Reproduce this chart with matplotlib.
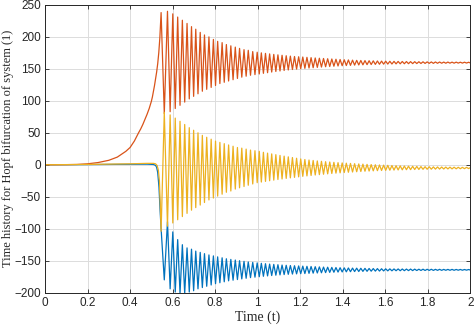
import numpy as np
import matplotlib
matplotlib.use("Agg")
import matplotlib.pyplot as plt

# ---- data ----
# times of the oscillation maxima of the red curve (first cycles slower)
peak_times_early = [0.546, 0.576, 0.601, 0.624, 0.646, 0.668, 0.689, 0.709, 0.730, 0.750, 0.771,
                    0.792, 0.812, 0.833, 0.853, 0.874, 0.895, 0.915, 0.936, 0.956, 0.977, 0.998]
late_period = 0.0195
n_late_cycles = 51

# build-up before the oscillation starts
red_pre_t = [0, 0.1, 0.15, 0.2, 0.25, 0.3, 0.34, 0.38, 0.4, 0.42, 0.44, 0.45, 0.46, 0.47, 0.48, 0.49,
             0.5, 0.505, 0.51, 0.515, 0.52, 0.525, 0.53, 0.535, 0.54, 0.543]
red_pre_v = [0, 0.2, 0.5, 1.5, 3.5, 7, 12, 21, 27, 37, 50, 56, 63, 71, 79, 88,
             99, 106, 115, 124, 134, 145, 158, 175, 198, 218]
yellow_pre_t = [0, 0.2, 0.4, 0.48, 0.51, 0.52, 0.527, 0.533, 0.538, 0.542]
yellow_pre_v = [0, 0.5, 1.5, 2.2, 2.2, 1.5, -1, -8, -25, -60]
blue_pre_t = [0, 0.2, 0.4, 0.48, 0.51, 0.52, 0.525, 0.53, 0.536, 0.541]
blue_pre_v = [0, 0.3, 0.8, 1.0, 0.5, -1, -4, -12, -35, -70]

# red: maxima at peak times, minima half a cycle later
red_max = [238, 240, 236, 231, 226, 221, 216, 212, 207, 203, 200, 196, 193, 191, 188, 186, 184, 182, 180, 179, 177, 176,
           175, 174.2, 173.4, 172.6, 171.9, 171.2, 170.5, 169.9, 169.3, 168.9, 168.5,
           168.0, 167.5, 167.0, 166.6, 166.2, 165.8, 165.4, 165.0, 164.6, 164.2,
           163.9, 163.6, 163.3, 163.1, 162.9, 162.7, 162.5, 162.3, 162.1, 162.0,
           161.8, 161.7, 161.6, 161.5, 161.4, 161.3, 161.2, 161.1, 161.0, 160.9,
           160.8, 160.8, 160.7, 160.6, 160.6, 160.5, 160.5, 160.4, 160.4, 160.3]
red_min = [80, 83, 88, 93, 98, 103, 107, 111, 115, 118, 121, 124, 127, 129, 131, 133, 135, 137, 138.5, 140, 141, 142,
           143, 144, 145, 145.9, 146.7, 147.5, 148.3, 149.0, 149.6, 150.2, 150.8,
           151.3, 151.8, 152.3, 152.8, 153.3, 153.7, 154.1, 154.5, 154.9, 155.2,
           155.5, 155.8, 156.1, 156.3, 156.6, 156.8, 157.0, 157.2, 157.4, 157.5,
           157.6, 157.8, 157.9, 158.0, 158.1, 158.2, 158.3, 158.4, 158.5, 158.6,
           158.6, 158.7, 158.8, 158.8, 158.9, 158.9, 159.0, 159.0, 159.1, 159.1]

# yellow: minima at red peak times, maxima at red trough times
yellow_min = [-104, -96, -91, -86, -81, -76, -71, -67, -63, -59, -55, -52, -49, -46, -43, -41, -38, -36, -34, -32, -30, -28,
              -27, -26, -25, -24, -23, -22.2, -21.3, -20.5, -19.7, -18.9, -18.1,
              -17.4, -16.7, -16.0, -15.4, -14.8, -14.2, -13.6, -13.1, -12.6, -12.1,
              -11.7, -11.3, -10.9, -10.5, -10.1, -9.8, -9.5, -9.2, -8.9, -8.7,
              -8.5, -8.3, -8.1, -7.9, -7.7, -7.6, -7.4, -7.3, -7.1, -7.0,
              -6.9, -6.8, -6.7, -6.6, -6.5, -6.4, -6.3, -6.2, -6.1, -6.0]
yellow_max = [82, 78, 73, 68, 63, 58, 54, 50, 46, 43, 40, 37, 35, 33, 31, 29, 27, 26, 24.5, 23, 22, 21,
              19.5, 18.2, 17, 15.8, 14.6, 13.5, 12.4, 11.3, 10.2, 9.1, 8.2,
              7.4, 6.7, 6.0, 5.4, 4.8, 4.3, 3.8, 3.3, 2.9, 2.5,
              2.1, 1.7, 1.3, 1.0, 0.6, 0.3, 0.0, -0.3, -0.6, -0.9,
              -1.2, -1.5, -1.7, -2.0, -2.2, -2.4, -2.6, -2.8, -3.0, -3.1,
              -3.3, -3.4, -3.5, -3.6, -3.7, -3.8, -3.9, -4.0, -4.0, -4.1]

# blue: in phase with red
blue_max = [-100, -89, -105, -117, -125, -130, -132, -135, -137, -139, -141, -142.5, -144, -145.5, -147, -148, -149,
            -150, -151, -152, -152.7, -153.4,
            -154.1, -154.7, -155.3, -155.8, -156.3, -156.8, -157.2, -157.6, -157.9, -158.2, -158.5,
            -158.8, -159.1, -159.4, -159.7, -160.0, -160.2, -160.5, -160.7, -161.0, -161.2,
            -161.4, -161.6, -161.7, -161.9, -162.0, -162.2, -162.3, -162.4, -162.6, -162.7,
            -162.8, -162.9, -162.9, -163.0, -163.1, -163.1, -163.2, -163.3, -163.3, -163.4,
            -163.4, -163.5, -163.5, -163.6, -163.6, -163.6, -163.7, -163.7, -163.8, -163.8]
blue_min = [-180, -194, -199, -201, -201, -199, -197, -194, -192, -190, -188, -186, -184.5, -183, -181.5, -180.5,
            -179.5, -178.5, -177.5, -176.5, -175.8, -175.1,
            -174.4, -173.8, -173.2, -172.7, -172.2, -171.7, -171.3, -170.9, -170.6, -170.3, -170.1,
            -169.8, -169.5, -169.2, -168.9, -168.6, -168.3, -168.1, -167.8, -167.6, -167.4,
            -167.2, -167.0, -166.9, -166.7, -166.6, -166.4, -166.3, -166.2, -166.0, -165.9,
            -165.8, -165.7, -165.7, -165.6, -165.5, -165.5, -165.4, -165.3, -165.3, -165.2,
            -165.2, -165.1, -165.1, -165.0, -165.0, -165.0, -164.9, -164.9, -164.8, -164.8]

xticks = [0, 0.2, 0.4, 0.6, 0.8, 1, 1.2, 1.4, 1.6, 1.8, 2]
xtick_labels = ['0', '0.2', '0.4', '0.6', '0.8', '1', '1.2', '1.4', '1.6', '1.8', '2']
yticks = [-200, -150, -100, -50, 0, 50, 100, 150, 200, 250]

# ---- assemble the time series (extremes joined by the line) ----
peak_t = np.concatenate([peak_times_early,
                         peak_times_early[-1] + late_period * np.arange(1, n_late_cycles + 1)])
trough_t = np.append((peak_t[:-1] + peak_t[1:]) / 2, peak_t[-1] + late_period / 2)
ext_t = np.empty(2 * len(peak_t))
ext_t[0::2] = peak_t
ext_t[1::2] = trough_t


def join(pre_t, pre_v, at_peaks, at_troughs):
    v = np.empty(2 * len(at_peaks))
    v[0::2] = at_peaks
    v[1::2] = at_troughs
    return np.concatenate([pre_t, ext_t]), np.concatenate([pre_v, v])


blue_t, blue_v = join(blue_pre_t, blue_pre_v, blue_max, blue_min)
red_t, red_v = join(red_pre_t, red_pre_v, red_max, red_min)
yel_t, yel_v = join(yellow_pre_t, yellow_pre_v, yellow_min, yellow_max)

# ---- plot ----
fig = plt.figure(figsize=(4.74, 3.27), dpi=100)
ax = fig.add_axes([0.095, 0.105, 0.897, 0.88])

ax.plot(blue_t, blue_v, color='#0072BD', lw=0.9)
ax.plot(red_t, red_v, color='#D95319', lw=0.9)
ax.plot(yel_t, yel_v, color='#EDB120', lw=0.9)

ax.set_xlim(0, 2)
ax.set_ylim(-200, 250)
ax.set_xticks(xticks)
ax.set_xticklabels(xtick_labels)
ax.set_yticks(yticks)
ax.grid(True, color='#dcdcdc', lw=0.7)
ax.set_axisbelow(True)
ax.tick_params(direction='in', length=3, width=0.6, top=True, right=True,
               labelsize=8.5, colors='#262626', pad=3)
for lab in ax.get_xticklabels() + ax.get_yticklabels():
    lab.set_fontfamily('Liberation Sans')
for s in ax.spines.values():
    s.set_color('#262626')
    s.set_linewidth(0.7)

ax.set_xlabel('Time (t)', family='Liberation Serif', fontsize=10, color='#262626', labelpad=1)
ax.set_ylabel('Time history for Hopf bifurcation of system (1)', family='Liberation Serif',
              fontsize=9.0, color='#262626')
ax.yaxis.set_label_coords(-0.0725, 0.5)

fig.savefig('out.png', dpi=100)
